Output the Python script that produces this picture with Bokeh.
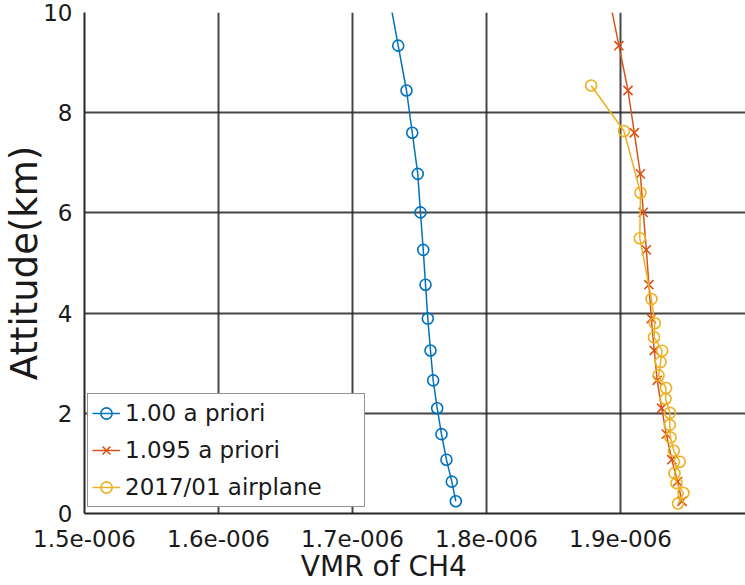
from bokeh.plotting import figure
from bokeh.models import Range1d, FixedTicker, CustomJSTickFormatter
from bokeh.embed import file_html
from bokeh.resources import INLINE

# Altitude levels of the retrieval grid (km)
altitude_km = [0.245, 0.636, 1.074, 1.584, 2.101, 2.658, 3.254, 3.891,
               4.567, 5.262, 6.010, 6.779, 7.600, 8.443, 9.338, 10.30]

# CH4 VMR profiles (mole fraction)
apriori_100 = [1.7771e-6, 1.7741e-6, 1.7701e-6, 1.7664e-6, 1.7632e-6, 1.7602e-6,
               1.7582e-6, 1.7562e-6, 1.7545e-6, 1.7528e-6, 1.7507e-6, 1.7487e-6,
               1.7446e-6, 1.7403e-6, 1.7341e-6, 1.7275e-6]
apriori_1095 = [1.9459e-6, 1.9426e-6, 1.9383e-6, 1.9342e-6, 1.9307e-6, 1.9274e-6,
                1.9252e-6, 1.9230e-6, 1.9212e-6, 1.9193e-6, 1.9170e-6, 1.9148e-6,
                1.9103e-6, 1.9056e-6, 1.8988e-6, 1.8916e-6]

# Aircraft profile, January 2017
airplane_alt_km = [0.199, 0.408, 0.606, 0.805, 1.034, 1.252, 1.517, 1.769, 2.008,
                   2.286, 2.505, 2.757, 3.022, 3.250, 3.519, 3.797, 4.280, 5.493,
                   6.402, 7.634, 8.543]
airplane_vmr = [1.9429e-6, 1.9470e-6, 1.9418e-6, 1.9403e-6, 1.9442e-6, 1.9398e-6,
                1.9373e-6, 1.9368e-6, 1.9369e-6, 1.9336e-6, 1.9340e-6, 1.9284e-6,
                1.9299e-6, 1.9311e-6, 1.9250e-6, 1.9256e-6, 1.9231e-6, 1.9144e-6,
                1.9149e-6, 1.9026e-6, 1.8781e-6]

x_ticks = [1.5e-6, 1.6e-6, 1.7e-6, 1.8e-6, 1.9e-6, 2.0e-6]
y_ticks = [0, 2, 4, 6, 8, 10]

BLUE = "#0072BD"
ORANGE = "#D95319"
YELLOW = "#EDB120"
INK = "#262626"
TEXT = "#1a1a1a"
FONT = "DejaVu Sans"

p = figure(width=745, height=585, output_backend="svg", toolbar_location=None,
           x_range=Range1d(1.5e-6, 1.99328e-6), y_range=Range1d(0, 10),
           min_border_left=84, min_border_right=0, min_border_top=12,
           min_border_bottom=72)
p.outline_line_color = None
p.background_fill_color = "white"
p.border_fill_color = "white"

for ax in (p.xaxis[0], p.yaxis[0]):
    ax.axis_line_color = INK
    ax.axis_line_width = 2
    ax.major_tick_in = 0
    ax.major_tick_out = 0
    ax.minor_tick_line_color = None
    ax.major_label_text_font = FONT
    ax.major_label_text_font_size = "23px"
    ax.major_label_text_color = TEXT
    ax.axis_label_text_font = FONT
    ax.axis_label_text_font_style = "normal"
    ax.axis_label_text_color = TEXT

p.xaxis[0].ticker = FixedTicker(ticks=x_ticks)
p.xaxis[0].formatter = CustomJSTickFormatter(code="""
    const s = tick.toExponential(1);
    return s.replace(/e-(\\d+)$/, (m, d) => 'e-' + d.padStart(3, '0'));
""")
p.xaxis[0].major_label_standoff = 16
# trailing no-break spaces move the centred title towards the left
p.xaxis[0].axis_label = "VMR of CH4" + "\u00a0" * 7
p.xaxis[0].axis_label_text_font_size = "28px"
p.xaxis[0].axis_label_standoff = 0

p.yaxis[0].ticker = FixedTicker(ticks=y_ticks)
p.yaxis[0].major_label_standoff = 12
p.yaxis[0].axis_label = "Attitude(km)"
p.yaxis[0].axis_label_text_font_size = "37px"
p.yaxis[0].axis_label_standoff = -6

for g in (p.xgrid[0], p.ygrid[0]):
    g.grid_line_color = INK
    g.grid_line_width = 2
    g.grid_line_alpha = 0.85
p.xgrid[0].ticker = FixedTicker(ticks=x_ticks)
p.ygrid[0].ticker = FixedTicker(ticks=y_ticks)

# Model a-priori profiles
p.line(apriori_100, altitude_km, line_color=BLUE, line_width=1.5,
       legend_label="1.00 a priori")
p.scatter(apriori_100, altitude_km, marker="circle", size=11, fill_color=None,
          line_color=BLUE, line_width=1.6, legend_label="1.00 a priori")

p.line(apriori_1095, altitude_km, line_color=ORANGE, line_width=1.5,
       legend_label="1.095 a priori")
p.scatter(apriori_1095, altitude_km, marker="x", size=13, line_color=ORANGE,
          line_width=1.6, legend_label="1.095 a priori")

# In-situ aircraft measurements
p.line(airplane_vmr, airplane_alt_km, line_color=YELLOW, line_width=1.5,
       legend_label="2017/01 airplane")
p.scatter(airplane_vmr, airplane_alt_km, marker="circle", size=11, fill_color=None,
          line_color=YELLOW, line_width=1.6, legend_label="2017/01 airplane")

leg = p.legend[0]
leg.location = (3, 6)
leg.margin = 0
leg.padding = 4
leg.spacing = 7
leg.glyph_width = 28
leg.glyph_height = 30
leg.label_height = 30
leg.label_width = 235
leg.label_standoff = 5
leg.label_text_font = FONT
leg.label_text_font_size = "23px"
leg.label_text_color = TEXT
leg.border_line_color = INK
leg.border_line_width = 1.5
leg.background_fill_alpha = 1.0

open("out.html", "w").write(file_html(p, INLINE))
